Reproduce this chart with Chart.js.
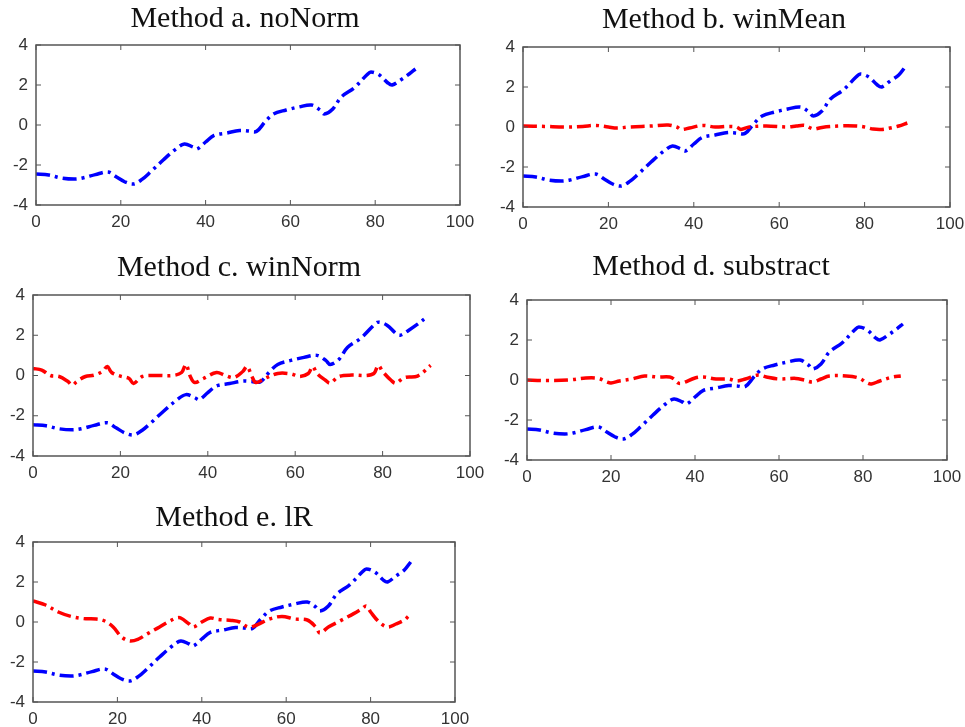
<!DOCTYPE html>
<html>
<head>
<meta charset="utf-8">
<script src="https://cdn.jsdelivr.net/npm/chart.js@4.4.1/dist/chart.umd.min.js"></script>
<style>
  body { margin: 0; background: #fff; }
  #page { position: relative; width: 965px; height: 727px; overflow: hidden; }
  canvas { position: absolute; }
</style>
</head>
<body>
<div id="page">
  <canvas id="chart-a"></canvas>
  <canvas id="chart-b"></canvas>
  <canvas id="chart-c"></canvas>
  <canvas id="chart-d"></canvas>
  <canvas id="chart-e"></canvas>
</div>
<script>
// axis ticks
const xTicks = [0, 20, 40, 60, 80, 100];
const yTicks = [-4, -2, 0, 2, 4];

// blue signal (same in every panel, slightly longer tail in b and e)
const blueX = [0, 3, 6, 9, 11, 14, 17, 19, 21, 23, 25, 27, 30, 33, 35, 37, 38, 40, 42, 45, 48, 50, 52, 54, 56, 59, 62, 65, 67, 68, 70, 72, 75, 78, 79, 81, 83, 84, 86, 88, 89.5];
const blueY = [-2.45, -2.5, -2.65, -2.7, -2.65, -2.48, -2.35, -2.6, -2.85, -2.95, -2.72, -2.35, -1.75, -1.2, -0.95, -1.1, -1.2, -0.85, -0.52, -0.4, -0.28, -0.3, -0.32, 0.15, 0.55, 0.75, 0.9, 1.0, 0.75, 0.55, 0.8, 1.4, 1.85, 2.5, 2.65, 2.5, 2.1, 2.0, 2.25, 2.55, 2.8];
const blueYLong = [-2.45, -2.5, -2.65, -2.7, -2.65, -2.48, -2.35, -2.6, -2.85, -2.95, -2.72, -2.35, -1.75, -1.2, -0.95, -1.1, -1.2, -0.85, -0.52, -0.4, -0.28, -0.3, -0.32, 0.15, 0.55, 0.75, 0.9, 1.0, 0.75, 0.55, 0.8, 1.4, 1.85, 2.5, 2.65, 2.5, 2.1, 2.0, 2.3, 2.6, 3.0];

// red series per method
const winMeanX = [0, 5, 10, 14, 17, 20, 22, 25, 30, 34, 36, 37, 39, 42, 45, 48, 50, 51, 53, 57, 62, 64, 66, 68, 70, 74, 78, 80, 82, 84, 86, 88, 90];
const winMeanY = [0.05, 0.03, 0.0, 0.03, 0.08, 0.0, -0.05, 0.0, 0.05, 0.1, 0.0, -0.12, -0.05, 0.08, 0.0, 0.03, 0.0, -0.12, 0.0, 0.05, 0.0, 0.05, 0.08, -0.1, -0.02, 0.05, 0.05, 0.0, -0.1, -0.12, -0.05, 0.05, 0.2];

const winNormX = [0, 2, 4, 6, 8, 9, 10, 12, 14, 16, 17, 18, 20, 22, 23, 25, 28, 32, 34, 35, 36, 37, 39, 42, 44, 46, 48, 49, 50, 51, 53, 56, 59, 61, 63, 64, 65, 67, 68, 70, 73, 76, 78, 79, 80, 82, 83, 85, 88, 91];
const winNormY = [0.35, 0.27, 0.0, -0.05, -0.3, -0.48, -0.3, -0.05, 0.02, 0.22, 0.45, 0.15, -0.03, -0.15, -0.4, -0.05, 0.0, 0.0, 0.15, 0.55, -0.05, -0.35, -0.15, 0.15, 0.0, -0.1, 0.2, 0.45, 0.0, -0.35, -0.15, 0.1, 0.08, -0.05, 0.1, 0.45, 0.1, -0.25, -0.38, -0.05, 0.02, 0.0, 0.1, 0.5, 0.2, -0.25, -0.38, -0.1, -0.03, 0.5];

const substractX = [0, 5, 10, 14, 17, 19, 20, 22, 25, 28, 31, 34, 35, 36, 37, 40, 42, 45, 48, 50, 52, 55, 57, 60, 64, 66, 68, 70, 72, 76, 79, 81, 82, 84, 87, 89];
const substractY = [0.0, -0.03, 0.0, 0.1, 0.08, -0.1, -0.15, -0.05, 0.05, 0.2, 0.15, 0.15, 0.05, -0.15, -0.15, 0.1, 0.15, 0.05, 0.05, -0.05, 0.05, 0.25, 0.15, 0.05, 0.08, 0.0, -0.1, 0.05, 0.2, 0.2, 0.1, -0.15, -0.2, -0.05, 0.15, 0.2];

const lRX = [0, 3, 6, 9, 12, 15, 17, 19, 21, 23, 25, 27, 30, 32, 34, 35, 37, 38, 40, 42, 44, 47, 49, 51, 53, 56, 59, 62, 65, 67, 68, 70, 73, 76, 78, 79, 80, 82, 84, 86, 88, 89];
const lRY = [1.05, 0.85, 0.5, 0.28, 0.17, 0.15, 0.05, -0.25, -0.75, -0.95, -0.85, -0.6, -0.25, 0.0, 0.2, 0.2, -0.1, -0.25, 0.0, 0.2, 0.12, 0.08, 0.0, -0.25, -0.15, 0.15, 0.28, 0.15, 0.1, -0.25, -0.55, -0.25, 0.08, 0.42, 0.67, 0.8, 0.5, 0.0, -0.25, -0.1, 0.1, 0.3];

function zip(xs, ys) {
  return xs.map((x, i) => ({ x: x, y: ys[i] }));
}

const AXIS_W = 40;   // room for y tick labels
const AXIS_H = 30;   // room for x tick labels
const PAD_TOP = 56;  // room for the title
const PAD_RIGHT = 24;

// matlab style box with inward ticks + title
const matlabBox = {
  id: 'matlabBox',
  afterDraw(chart, args, opts) {
    const ctx = chart.ctx;
    const a = chart.chartArea;
    const xs = chart.scales.x, ys = chart.scales.y;
    ctx.save();
    ctx.strokeStyle = '#555';
    ctx.lineWidth = 1.5;
    ctx.strokeRect(a.left, a.top, a.right - a.left, a.bottom - a.top);
    ctx.lineWidth = 1;
    ctx.beginPath();
    xTicks.forEach(v => {
      const p = xs.getPixelForValue(v);
      ctx.moveTo(p, a.bottom); ctx.lineTo(p, a.bottom - 5);
      ctx.moveTo(p, a.top); ctx.lineTo(p, a.top + 5);
    });
    yTicks.forEach(v => {
      const p = ys.getPixelForValue(v);
      ctx.moveTo(a.left, p); ctx.lineTo(a.left + 5, p);
      ctx.moveTo(a.right, p); ctx.lineTo(a.right - 5, p);
    });
    ctx.stroke();
    ctx.fillStyle = '#111';
    ctx.font = '30px "Liberation Serif"';
    ctx.textAlign = 'center';
    ctx.textBaseline = 'middle';
    ctx.fillText(opts.text, opts.cx, opts.cy);
    ctx.restore();
  }
};

function line(xs, ys, color) {
  return {
    data: zip(xs, ys),
    borderColor: color,
    borderWidth: 3.5,
    borderDash: [14, 5, 3, 5],
    pointRadius: 0,
    tension: 0.35,
    fill: false
  };
}

function panel(id, title, box, datasets) {
  const c = document.getElementById(id);
  const left = box.l - AXIS_W, top = box.t - PAD_TOP;
  c.width = box.r - box.l + AXIS_W + PAD_RIGHT;
  c.height = box.b - box.t + PAD_TOP + AXIS_H;
  c.style.left = left + 'px';
  c.style.top = top + 'px';
  const tickFont = { family: '"Liberation Sans", Arial, sans-serif', size: 17 };
  return new Chart(c, {
    type: 'line',
    data: { datasets: datasets },
    options: {
      responsive: false,
      animation: false,
      layout: { padding: { top: PAD_TOP, right: PAD_RIGHT, left: 0, bottom: 0 } },
      plugins: {
        legend: { display: false },
        tooltip: { enabled: false },
        matlabBox: { text: title, cx: box.tx - left, cy: box.ty - top }
      },
      scales: {
        x: {
          type: 'linear', min: 0, max: 100,
          grid: { display: false, drawTicks: false },
          border: { display: false },
          afterBuildTicks: s => { s.ticks = xTicks.map(v => ({ value: v })); },
          afterFit: s => { s.height = AXIS_H; },
          ticks: { color: '#333', font: tickFont, padding: 7, maxRotation: 0 }
        },
        y: {
          type: 'linear', min: -4, max: 4,
          grid: { display: false, drawTicks: false },
          border: { display: false },
          afterBuildTicks: s => { s.ticks = yTicks.map(v => ({ value: v })); },
          afterFit: s => { s.width = AXIS_W; },
          ticks: { color: '#333', font: tickFont, padding: 8 }
        }
      }
    },
    plugins: [matlabBox]
  });
}

const BLUE = '#0000ff', RED = '#ff0000';

panel('chart-a', 'Method a. noNorm', { l: 36, r: 460, t: 45, b: 205, tx: 245, ty: 19 },
  [line(blueX, blueY, BLUE)]);
panel('chart-b', 'Method b. winMean', { l: 523, r: 950, t: 47, b: 207, tx: 724, ty: 20 },
  [line(winMeanX, winMeanY, RED), line(blueX, blueYLong, BLUE)]);
panel('chart-c', 'Method c. winNorm', { l: 33, r: 470, t: 295, b: 456, tx: 239, ty: 268 },
  [line(winNormX, winNormY, RED), line(blueX, blueY, BLUE)]);
panel('chart-d', 'Method d. substract', { l: 527, r: 947, t: 300, b: 460, tx: 711, ty: 267 },
  [line(substractX, substractY, RED), line(blueX, blueY, BLUE)]);
panel('chart-e', 'Method e. lR', { l: 33, r: 455, t: 542, b: 702, tx: 234, ty: 518 },
  [line(lRX, lRY, RED), line(blueX, blueYLong, BLUE)]);
</script>
</body>
</html>
